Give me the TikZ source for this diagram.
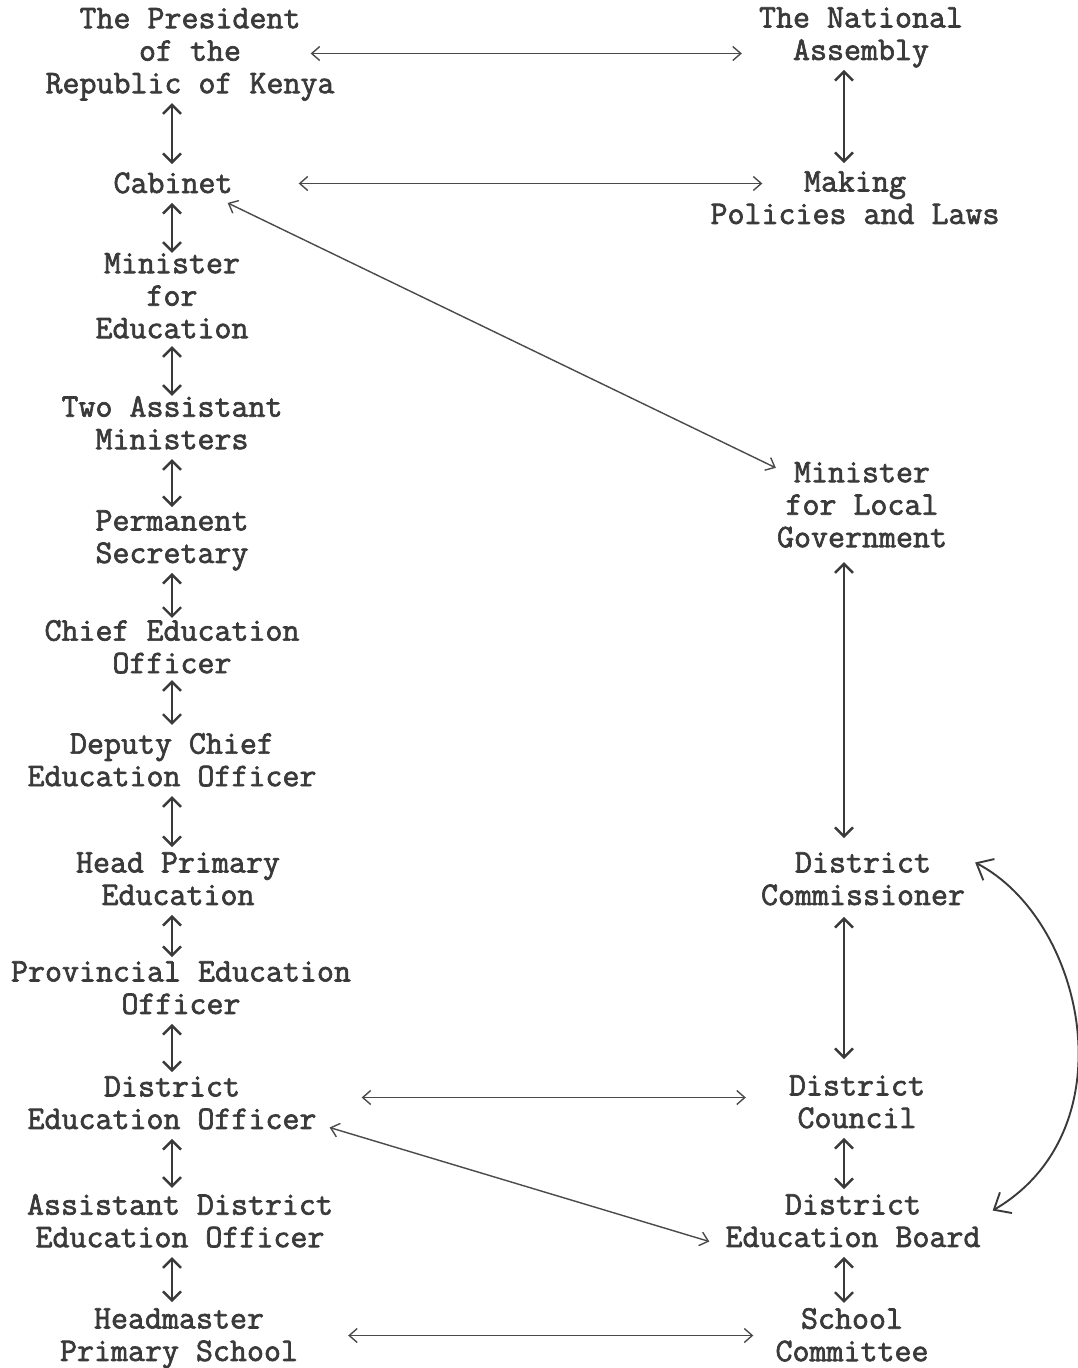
\documentclass[tikz,border=0pt]{standalone}
\usepackage{fontspec}
\newfontfamily\twfont{Latin Modern Mono}[FakeBold=2]
\usetikzlibrary{arrows.meta}
\definecolor{ink}{HTML}{3a3a3a}
\definecolor{wire}{HTML}{4a4a4a}
\begin{document}
\begin{tikzpicture}[x=1pt,y=-1pt,
  lbl/.style={font=\fontsize{33}{32.5}\twfont, align=center, inner sep=0pt, text=ink,
    execute at begin node=\strut, execute at end node=\strut},
  varr/.style={{Straight Barb[length=9pt,width=18pt]}-{Straight Barb[length=9pt,width=18pt]}, line width=2.4pt, draw=ink},
  harr/.style={{Straight Barb[length=8pt,width=14pt]}-{Straight Barb[length=8pt,width=14pt]}, line width=1.4pt, draw=wire},
  carr/.style={{Straight Barb[length=14pt,width=24pt]}-{Straight Barb[length=14pt,width=24pt]}, line width=1.9pt, draw=ink},
]
\useasboundingbox[fill=white] (0,0) rectangle (1077,1368);

% left column
\node[lbl] (pres)    at (190,55.5)  {The President\\of the\\Republic of Kenya};
\node[lbl] (cab)     at (173,186.5) {Cabinet};
\node[lbl] (minedu)  at (172,300.5) {Minister\\for\\Education};
\node[lbl] (twoasst) at (172,427.5) {Two Assistant\\Ministers};
\node[lbl] (perm)    at (172,541.5) {Permanent\\Secretary};
\node[lbl] (chief)   at (172,651.5) {Chief Education\\Officer};
\node[lbl] (deputy)  at (172,764.5) {Deputy Chief\\Education Officer};
\node[lbl] (head)    at (178,883.5) {Head Primary\\Education};
\node[lbl] (prov)    at (181,992.5) {Provincial Education\\Officer};
\node[lbl] (deo)     at (172,1107.5){District\\Education Officer};
\node[lbl] (adeo)    at (180,1225.5){Assistant District\\Education Officer};
\node[lbl] (headm)   at (179,1339.5){Headmaster\\Primary School};

% right column
\node[lbl] (nat)     at (861,38.5)  {The National\\Assembly};
\node[lbl] (making)  at (855,202.5) {Making\\Policies and Laws};
\node[lbl] (mlg)     at (862,509.5) {Minister\\for Local\\Government};
\node[lbl] (dc)      at (863,883.5) {District\\Commissioner};
\node[lbl] (council) at (857,1106.5){District\\Council};
\node[lbl] (deb)     at (853,1225.5){District\\Education Board};
\node[lbl] (sc)      at (852,1339.5){School\\Committee};

\coordinate (L) at (172,0);
\coordinate (R) at (844,0);

% left vertical arrows
\draw[varr, shorten >=6pt] (pres.south -| L) -- (cab.north -| L);
\draw[varr] (cab.south -| L) -- (minedu.north -| L);
\draw[varr, shorten <=-2pt] (minedu.south -| L) -- (twoasst.north -| L);
\draw[varr, shorten >=3pt] (twoasst.south -| L) -- (perm.north -| L);
\draw[varr, shorten >=2pt] (perm.south -| L) -- (chief.north -| L);
\draw[varr, shorten <=-3pt, shorten >=8pt] (chief.south -| L) -- (deputy.north -| L);
\draw[varr, shorten >=5pt] (deputy.south -| L) -- (head.north -| L);
\draw[varr, shorten >=4pt] (head.south -| L) -- (prov.north -| L);
\draw[varr, shorten >=4pt] (prov.south -| L) -- (deo.north -| L);
\draw[varr, shorten >=6pt] (deo.south -| L) -- (adeo.north -| L);
\draw[varr, shorten >=6pt] (adeo.south -| L) -- (headm.north -| L);

% right vertical arrows
\draw[varr, shorten >=8pt] (nat.south -| R) -- (making.north -| R);
\draw[varr, shorten <=5pt, shorten >=14pt] (mlg.south -| R) -- (dc.north -| R);
\draw[varr, shorten <=2pt, shorten >=16pt] (dc.south -| R) -- (council.north -| R);
\draw[varr, shorten >=5pt] (council.south -| R) -- (deb.north -| R);
\draw[varr, shorten >=5pt] (deb.south -| R) -- (sc.north -| R);

% horizontal arrows
\draw[harr] ([shift={(-24,-2)}]pres.east) -- ([shift={(-17,15)}]nat.west);
\draw[harr] ([shift={(66,-3)}]cab.east) -- ([shift={(52,-19)}]making.west);
\draw[harr] ([shift={(45,-10)}]deo.east) -- ([shift={(-43,-9)}]council.west);
\draw[harr] ([shift={(50,-4)}]headm.east) -- ([shift={(-22,-4)}]sc.west);

% diagonal arrows
\draw[harr] ([shift={(-5,0)}]cab.south east) -- ([shift={(-1,6)}]mlg.north west);
\draw[harr] ([shift={(13,20)}]deo.east) -- ([shift={(-16,16)}]deb.west);

% curved arrow
\draw[carr] ([shift={(10,-21)}]dc.east) .. controls (1085,920) and (1130,1130) .. ([shift={(12,-15)}]deb.east);
\end{tikzpicture}
\end{document}
